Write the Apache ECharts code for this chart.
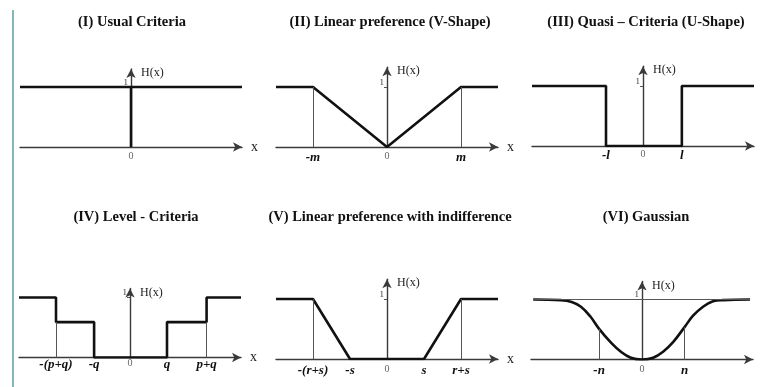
<!DOCTYPE html>
<html>
<head>
<meta charset="utf-8">
<script src="https://cdn.jsdelivr.net/npm/echarts@6/dist/echarts.min.js"></script>
<style>
  html, body { margin: 0; background: #fff; }
  #chart { width: 761px; height: 387px; }
</style>
</head>
<body>
<div id="chart"></div>
<script>
// panel titles
const titles = [
  '(I) Usual Criteria',
  '(II) Linear preference (V-Shape)',
  '(III) Quasi \u2013 Criteria (U-Shape)',
  '(IV) Level - Criteria',
  '(V) Linear preference with indifference',
  '(VI) Gaussian'
];

// (I) usual criterion
const usualX = [-3, 0, 0, 0, 3];
const usualH = [1, 1, 0, 1, 1];
const usualTicks = [0];
const usualNames = ['0'];

// (II) V-shape
const vShapeX = [-3, -2, 0, 2, 3];
const vShapeH = [1, 1, 0, 1, 1];
const vShapeTicks = [-2, 0, 2];
const vShapeNames = ['-m', '0', 'm'];
const vShapeGuides = [[-2, 1], [2, 1]];

// (III) U-shape
const uShapeX = [-3, -1, -1, 1.05, 1.05, 3];
const uShapeH = [1, 1, 0, 0, 1, 1];
const uShapeTicks = [-1, 0, 1.05];
const uShapeNames = ['-l', '0', 'l'];

// (IV) level criterion
const levelX = [-3, -2, -2, -0.97, -0.97, 1, 1, 2.07, 2.07, 3];
const levelH = [1, 1, 0.59, 0.59, 0, 0, 0.59, 0.59, 1, 1];
const levelTicks = [-2, -0.97, 0, 1, 2.07];
const levelNames = ['-(p+q)', '-q', '0', 'q', 'p+q'];
const levelGuides = [[-2, 0.59], [2.07, 0.59]];

// (V) linear with indifference
const indiffX = [-3, -2, -1, 1, 2, 3];
const indiffH = [1, 1, 0, 0, 1, 1];
const indiffTicks = [-2, -1, 0, 1, 2];
const indiffNames = ['-(r+s)', '-s', '0', 's', 'r+s'];
const indiffGuides = [[-2, 1], [2, 1]];

// (VI) gaussian, points
const gaussX = [-2.94, -2.2, -1.9, -1.65, -1.4, -1.16, -0.85, -0.57, -0.3, 0,
                0.3, 0.57, 0.84, 1.15, 1.38, 1.65, 1.92, 2.19, 2.92];
const gaussH = [1, 0.99, 0.96, 0.88, 0.72, 0.51, 0.29, 0.13, 0.03, 0,
                0.03, 0.13, 0.29, 0.54, 0.73, 0.88, 0.97, 0.99, 1];
const gaussTicks = [-1.16, 0, 1.15];
const gaussNames = ['-n', '0', 'n'];
const gaussGuides = [[-1.16, 0.51], [1.15, 0.54]];
const gaussLevel = [-2.94, 2.92];

// layout of each small panel (px): centre of y axis, x axis height, title centre
const U = 37, V = 60;
const panels = [
  { cx: 131, ax: 147, tx: 132, ty: 22, ymax: 1.3, gap: 4, xs: usualX, hs: usualH, ticks: usualTicks, names: usualNames, guides: [] },
  { cx: 387, ax: 147, tx: 390, ty: 22, ymax: 1.33, gap: 4, xs: vShapeX, hs: vShapeH, ticks: vShapeTicks, names: vShapeNames, guides: vShapeGuides },
  { cx: 643, ax: 146, tx: 646, ty: 22, ymax: 1.33, gap: 3, xs: uShapeX, hs: uShapeH, ticks: uShapeTicks, names: uShapeNames, guides: [] },
  { cx: 130, ax: 357.5, tx: 136, ty: 217, ymax: 1.15, gap: 1, xs: levelX, hs: levelH, ticks: levelTicks, names: levelNames, guides: levelGuides },
  { cx: 387, ax: 359, tx: 390, ty: 217, ymax: 1.33, gap: 5, xs: indiffX, hs: indiffH, ticks: indiffTicks, names: indiffNames, guides: indiffGuides },
  { cx: 642, ax: 359.5, tx: 646, ty: 217, ymax: 1.3, gap: 5, xs: gaussX, hs: gaussH, ticks: gaussTicks, names: gaussNames, guides: gaussGuides, smooth: true }
];

const serif = 'Liberation Serif';
const axisColor = '#3a3a3a';

const grid = panels.map(p => ({
  left: p.cx - 3 * U,
  width: 6 * U,
  top: p.ax - p.ymax * V,
  height: p.ymax * V,
  outerBoundsMode: 'none',
  containLabel: false
}));

const xAxis = panels.map((p, i) => ({
  gridIndex: i,
  type: 'value',
  min: -3,
  max: 3,
  splitLine: { show: false },
  axisTick: { show: false },
  axisLine: {
    onZero: false,
    symbol: ['none', 'arrow'],
    symbolSize: [7, 9],
    lineStyle: { color: axisColor, width: 1.4 }
  },
  axisLabel: {
    customValues: p.ticks,
    margin: p.gap,
    formatter: v => {
      let k = 0;
      p.ticks.forEach((t, j) => { if (Math.abs(t - v) < Math.abs(p.ticks[k] - v)) k = j; });
      const s = p.names[k];
      return s === '0' ? '{z|0}' : '{v|' + s + '}';
    },
    rich: {
      z: { fontFamily: serif, fontSize: 10, color: '#666' },
      v: { fontFamily: serif, fontSize: 13, fontWeight: 'bold', fontStyle: 'italic', color: '#111' }
    }
  },
  name: 'x',
  nameLocation: 'end',
  nameGap: 9,
  nameTextStyle: { fontFamily: serif, fontSize: 14, color: '#222' }
}));

// y axis shifted from the grid's left edge onto x = 0
const yAxis = panels.map((p, i) => ({
  gridIndex: i,
  type: 'value',
  min: 0,
  max: p.ymax,
  offset: -3 * U,
  splitLine: { show: false },
  axisLine: {
    onZero: false,
    symbol: ['none', 'arrow'],
    symbolSize: [7, 9],
    lineStyle: { color: axisColor, width: 1.4 }
  },
  axisTick: { show: true, customValues: [1], length: 3, lineStyle: { color: '#555' } },
  axisLabel: {
    customValues: [1],
    formatter: () => '1',
    margin: 3,
    verticalAlign: 'bottom',
    fontFamily: serif,
    fontSize: 9,
    color: '#333'
  },
  name: 'H(x)',
  nameLocation: 'end',
  nameGap: -4,
  nameTextStyle: { fontFamily: serif, fontSize: 12, color: '#222', align: 'left', verticalAlign: 'middle', padding: [0, 0, 0, 10] }
}));

const series = panels.map((p, i) => {
  const lines = p.guides.map(g => [{ coord: [g[0], 0] }, { coord: [g[0], g[1]] }]);
  if (i === 5) lines.push([{ coord: [gaussLevel[0], 1] }, { coord: [gaussLevel[1], 1] }]);
  return {
    type: 'line',
    xAxisIndex: i,
    yAxisIndex: i,
    data: p.xs.map((x, j) => [x, p.hs[j]]),
    showSymbol: false,
    symbol: 'none',
    smooth: p.smooth ? 0.4 : false,
    lineStyle: { color: '#111', width: 2.6 },
    z: 3,
    silent: true,
    animation: false,
    markLine: {
      silent: true,
      symbol: 'none',
      label: { show: false },
      animation: false,
      lineStyle: { color: '#555', width: 1, type: 'solid' },
      data: lines
    }
  };
});

const graphic = panels.map((p, i) => ({
  type: 'text',
  x: p.tx,
  y: p.ty,
  style: {
    text: titles[i],
    align: 'center',
    verticalAlign: 'middle',
    font: 'bold 14.5px "Liberation Serif"',
    fill: '#111'
  }
}));
graphic.push({
  type: 'line',
  shape: { x1: 13, y1: 10, x2: 13, y2: 387 },
  style: { stroke: '#5b9ea6', lineWidth: 1.5 }
});

const chart = echarts.init(document.getElementById('chart'));
chart.setOption({
  animation: false,
  backgroundColor: '#fff',
  grid,
  xAxis,
  yAxis,
  series,
  graphic
});
</script>
</body>
</html>
